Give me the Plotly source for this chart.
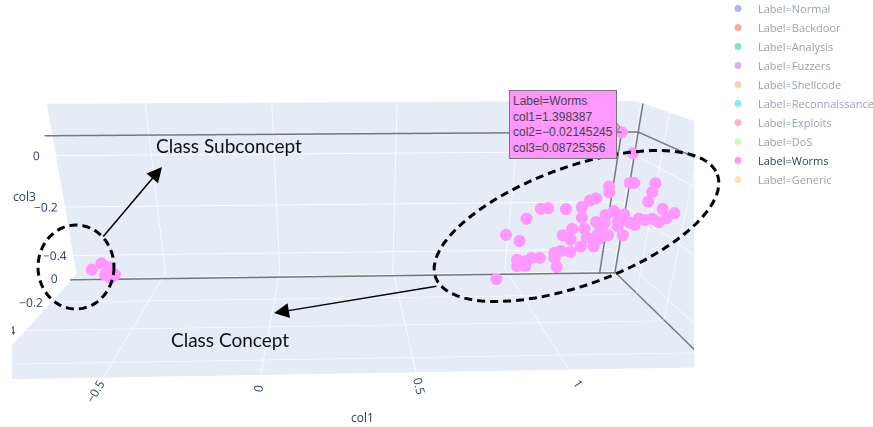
import numpy as np
import plotly.graph_objects as go

PAGE_W, PAGE_H = 873, 427
FIG_W, FIG_H, TOP_CUT = 1000, 545, 6
labels = ["Normal", "Backdoor", "Analysis", "Fuzzers", "Shellcode", "Reconnaissance", "Exploits", "DoS", "Worms", "Generic"]
colors = ["#636EFA", "#EF553B", "#00CC96", "#AB63FA", "#FFA15A", "#19D3F3", "#FF6692", "#B6E880", "#FF97FF", "#FECB52"]

hover_pt = (1.398387, -0.02145245, 0.08725356)
col1 = [1.398387, 1.359, 1.404, 1.398, 1.366, 1.383, 1.34, 1.345, 1.389, 1.32, 1.295, 1.265, 1.20, 1.125, 1.095, 1.04, .96, 1.02,
        1.43, 1.385, 1.405, 1.38, 1.355, 1.33, 1.307, 1.306, 1.28, 1.268, 1.239, 1.2, 1.258, 1.266, 1.29, 1.216, 1.281, 1.288, 1.26,
        1.214, 1.179, 1.214, 1.279, 1.268, 1.288, 1.22, 1.179, 1.153, 1.156, 1.094, 1.06, 1.035, 1.0, 1.003, 1.037, 1.148, .888,
        1.289, 1.296, 1.281, 1.26,
        -.774, -.73, -.69, -.70, -.652, -.67]
col2 = [-0.02145245, -.2, -.3, -.3, -.2, -.2, -.1, -.1, -.3, -.05, -.05, -.05, -.05, -.05, -.05, -.05, -.05, -.05,
        -.4, -.4, -.4, -.4, -.4, -.4, -.4, -.35, -.35, -.3, -.3, -.2, -.2, -.25, -.3, -.2, -.2, -.35, -.3,
        -.1, -.1, -.1, -.1, -.2, -.15, -.1, -.1, -.1, -.1, -.1, -.1, -.1, -.1, -.1, -.1, -.15, -.2,
        -.3, -.4, -.2, -.1,
        -.05, -.05, -.08, -.1, -.12, -.12]
col3 = [0.08725356, .054, -.023, -.053, -.051, -.051, -.094, -.116, -.086, -.155, -.163, -.189, -.196, -.192, -.194, -.233, -.297, -.323,
        -.092, -.077, -.108, -.122, -.11, -.114, -.109, -.141, -.112, -.118, -.132, -.176, -.193, -.179, -.171, -.218, -.224, -.185, -.204,
        -.256, -.282, -.299, -.292, -.246, -.307, -.349, -.345, -.352, -.372, -.372, -.372, -.385, -.379, -.405, -.405, -.387, -.41,
        -.155, -.13, -.257, -.328,
        -.42, -.395, -.398, -.42, -.41, -.423]

x_range = [-0.885, 1.47]
y_range = [-0.68, 0.04]
z_range = [-0.48, 0.19]

fig = go.Figure()
for name, c in zip(labels, colors):
    if name == "Worms":
        fig.add_trace(go.Scatter3d(x=col1, y=col2, z=col3, mode="markers", name="Label=" + name,
                                   marker=dict(size=7, color=c, opacity=1, line=dict(width=0))))
    else:
        fig.add_trace(go.Scatter3d(x=[0], y=[0], z=[0], mode="markers", name="Label=" + name, visible="legendonly",
                                   marker=dict(size=7, color=c)))

hx, hy, hz = hover_pt
x0, x1 = x_range
y0 = y_range[0]
z0, z1 = z_range
lift = 0.004
spikes = [
    ([x0, x1], [hy, hy], [hz, hz]),
    ([x1 - lift, x1 - lift], [hy, y0], [hz, hz]),
    ([hx, hx], [hy, hy], [z0, hz]),
    ([x0, x1], [hy, hy], [z0 + lift, z0 + lift]),
    ([x1, x1], [y0, hy], [z0 + lift, z0 + lift]),
    ([x1 - lift, x1 - lift], [hy, hy], [z0, z1]),
]
for sx, sy, sz in spikes:
    fig.add_trace(go.Scatter3d(x=sx, y=sy, z=sz, mode="lines", showlegend=False, hoverinfo="skip",
                               line=dict(color="#777777", width=3)))

def px(x): return x / FIG_W
def py(y): return 1 - (y + TOP_CUT) / FIG_H

def ellipse_path(cx, cy, a, b, deg):
    t = np.linspace(0, 2 * np.pi, 73)[:-1]
    r = np.radians(deg)
    xs = cx + a * np.cos(t) * np.cos(r) - b * np.sin(t) * np.sin(r)
    ys = cy + a * np.cos(t) * np.sin(r) + b * np.sin(t) * np.cos(r)
    return "M" + " L".join(f"{px(u):.5f},{py(v):.5f}" for u, v in zip(xs, ys)) + " Z"

dash = dict(color="black", width=3, dash="8px,5px")
shapes = [
    dict(type="path", xref="paper", yref="paper", path=ellipse_path(76, 267, 38, 42, 0), line=dash),
    dict(type="path", xref="paper", yref="paper", path=ellipse_path(576.5, 226, 150, 59, -20), line=dash),
    dict(type="path", xref="paper", yref="paper", fillcolor="#FF97FF", line=dict(color="#777777", width=1),
         path=f"M{px(614)},{py(120)} L{px(620)},{py(127)} L{px(614)},{py(134)} Z"),
]

def arrow(x0, y0, x1, y1):
    return dict(xref="paper", yref="paper", x=px(x1), y=py(y1), ax=x0 - x1, ay=y0 - y1,
                text="", showarrow=True, arrowhead=2, arrowsize=2.0, arrowwidth=1.5, arrowcolor="black")

def note(text, x, y):
    return dict(xref="paper", yref="paper", x=px(x), y=py(y), text=text, showarrow=False, xanchor="left",
                yanchor="middle", font=dict(family="Lato", size=19, color="#111111"))

def axis_title(text, x, y):
    return dict(xref="paper", yref="paper", x=px(x), y=py(y), text=text, showarrow=False, xanchor="center",
                yanchor="middle", font=dict(family="Open Sans", size=12, color="#2a3f5f"))

annotations = [
    arrow(102, 238, 162, 167),
    arrow(438, 286, 274, 313),
    note("Class Subconcept", 154, 145),
    note("Class Concept", 169, 339),
    axis_title("col1", 362, 417),
    axis_title("col3", 24, 196),
    dict(xref="paper", yref="paper", x=px(509), y=py(90), xanchor="left", yanchor="top", showarrow=False, align="left",
         text=f"Label=Worms<br>col1={hx}<br>col2=\u2212{abs(hy)}<br>col3={hz}",
         bgcolor="#FF97FF", bordercolor="#777777", borderwidth=1, borderpad=3,
         font=dict(family="Liberation Sans", size=12, color="#444444")),
]

axis = dict(backgroundcolor="#E5ECF6", gridcolor="white", linecolor="white", zerolinecolor="white",
            showbackground=True, gridwidth=1.5, tickfont=dict(size=12, color="#2a3f5f"))

fig.update_layout(
    width=FIG_W, height=FIG_H, margin=dict(l=0, r=0, t=0, b=0), autosize=False,
    paper_bgcolor="rgba(0,0,0,0)", showlegend=True,
    font=dict(family="Open Sans", size=12, color="#2a3f5f"),
    legend=dict(x=px(718), y=1.0, xanchor="left", yanchor="top", bgcolor="rgba(0,0,0,0)", font=dict(size=11)),
    scene=dict(
        domain=dict(x=[px(12), px(694)], y=[0, 1]),
        aspectmode="manual",
        aspectratio=dict(x=2.247, y=0.815, z=0.697),
        camera=dict(eye=dict(x=-0.053, y=-2.149, z=0.73), center=dict(x=0.03, y=0.42, z=-0.335), up=dict(x=0, y=0, z=1)),
        xaxis=dict(axis, title=dict(text=""), range=x_range, dtick=0.5),
        yaxis=dict(axis, title=dict(text=""), range=y_range, dtick=0.2),
        zaxis=dict(axis, title=dict(text=""), range=z_range, dtick=0.2),
    ),
    shapes=shapes, annotations=annotations,
)

fig.write_html("out.html", config=dict(displayModeBar=False), post_script=f"""
document.body.style.margin = '0';
document.body.style.marginTop = '-{TOP_CUT}px';
document.documentElement.style.overflow = 'hidden';
document.body.style.overflow = 'hidden';
document.querySelectorAll('.main-svg').forEach(function(s){{ s.style.zIndex = 10; }});
""")
